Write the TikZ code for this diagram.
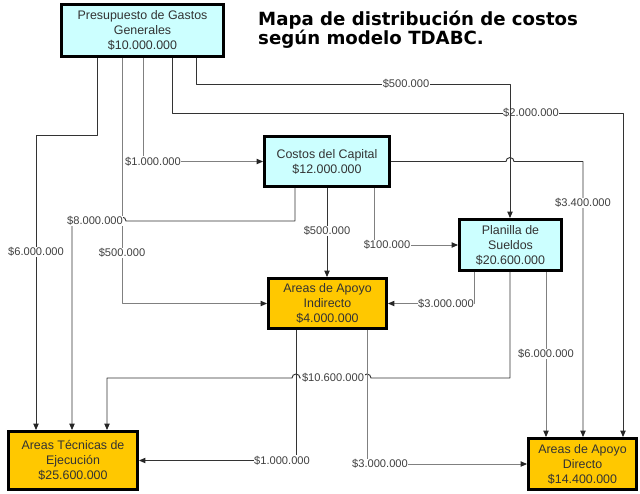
\documentclass[tikz,border=0pt]{standalone}
\usepackage{fontspec}
\setmainfont{Liberation Sans}
\newfontfamily\titlefont{DejaVu Sans}
\usetikzlibrary{arrows.meta}

\definecolor{boxcyan}{HTML}{CCFFFF}
\definecolor{boxyellow}{HTML}{FFC800}

\tikzset{
  box/.style={draw=black, line width=2.4pt, align=center, inner sep=0pt,
    text=black!80, font=\fontsize{10.6}{12.8}\selectfont},
  cbox/.style={box, fill=boxcyan},
  ybox/.style={box, fill=boxyellow},
  flow/.style={line width=0.8pt, draw=black!80, line join=round,
    -{Triangle[length=5.5pt,width=4.5pt,color=black!85]}},
  flowg/.style={flow, draw=black!50},
  amt/.style={fill=white, inner sep=0.5pt, text=black!75,
    font=\fontsize{9.5}{11}\selectfont},
}

\begin{document}
\begin{tikzpicture}[x=0.03cm, y=-0.03cm]

  \useasboundingbox (0,0) rectangle (640,493);

  % Title
  \node[anchor=north west, inner sep=0pt, align=left,
    font=\titlefont\bfseries\fontsize{15.5}{16.2}\selectfont] (title) at (258,11)
    {Mapa de distribución de costos\\según modelo TDABC.};

  % Cost centres
  \node[cbox, minimum width=4.86cm, minimum height=1.56cm] (pgg) at (142.5,30.5)
    {Presupuesto de Gastos\\Generales\\\$10.000.000};
  \node[cbox, minimum width=3.75cm, minimum height=1.5cm] (cap) at (327,161.5)
    {Costos del Capital\\\$12.000.000};
  \node[cbox, minimum width=3.06cm, minimum height=1.53cm] (pla) at (510.5,245)
    {Planilla de\\Sueldos\\\$20.600.000};
  \node[ybox, minimum width=3.54cm, minimum height=1.5cm] (ind) at (327.5,303.5)
    {Areas de Apoyo\\Indirecto\\\$4.000.000};
  \node[ybox, minimum width=3.87cm, minimum height=1.74cm] (tec) at (73,460.5)
    {Areas Técnicas de\\Ejecución\\\$25.600.000};
  \node[ybox, minimum width=3.24cm, minimum height=1.53cm] (dir) at (582.5,464)
    {Areas de Apoyo\\Directo\\\$14.400.000};

  % From Presupuesto de Gastos Generales
  \draw[flow] (pgg.south -| 97,0) |- (36,135) -- (tec.north -| 36,0);
  \node[amt] (l6m) at (36,252) {\$6.000.000};
  \draw[flowg] (pgg.south -| 122,0) |- (ind.west);
  \node[amt] (l500a) at (122,253) {\$500.000};
  \draw[flowg] (pgg.south -| 143,0) |- (cap.west);
  \node[amt] (l1ma) at (153,161.5) {\$1.000.000};
  \draw[flow] (pgg.south -| 172,0) |- (623,113) -- (dir.north -| 623,0);
  \node[amt] (l2m) at (531,113) {\$2.000.000};
  \draw[flow] (pgg.south -| 196,0) |- (510,84) -- (pla.north -| 510,0);
  \node[amt] (l500b) at (406,84) {\$500.000};

  % From Costos del Capital
  \draw[flow] (cap.south -| 295,0) |- (126,221) arc (0:-180:4) -- (72,221)
    -- (tec.north -| 72,0);
  \node[amt] (l8m) at (95,221) {\$8.000.000};
  \draw[flow] (cap.south -| 327,0) -- (ind.north -| 327,0);
  \node[amt] (l500c) at (327,231) {\$500.000};
  \draw[flowg] (cap.south -| 374,0) |- (pla.west);
  \node[amt] (l100k) at (387,245) {\$100.000};
  \draw[flow] (cap.east) -- (506,161.5) arc (180:360:4) -- (583,161.5)
    -- (dir.north -| 583,0);
  \node[amt] (l3m4) at (583,203) {\$3.400.000};

  % From Planilla de Sueldos
  \draw[flowg] (pla.south -| 474,0) |- (ind.east);
  \node[amt] (l3ma) at (446,303.5) {\$3.000.000};
  \draw[flow] (pla.south -| 510,0) |- (371,378) arc (0:-180:4) -- (300,378)
    arc (0:-180:4) -- (107,378) -- (tec.north -| 107,0);
  \node[amt] (l10m) at (333,378) {\$10.600.000};
  \draw[flowg] (pla.south -| 546,0) -- (dir.north -| 546,0);
  \node[amt] (l6mb) at (546,354) {\$6.000.000};

  % From Areas de Apoyo Indirecto
  \draw[flow] (ind.south -| 296,0) |- (tec.east);
  \node[amt] (l1mb) at (282,460.5) {\$1.000.000};
  \draw[flowg] (ind.south -| 367,0) |- (dir.west);
  \node[amt] (l3mb) at (380,464) {\$3.000.000};

\end{tikzpicture}
\end{document}
